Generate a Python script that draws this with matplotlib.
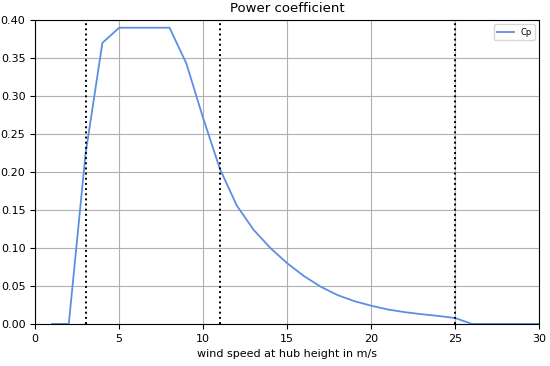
import matplotlib
matplotlib.use("Agg")
import matplotlib.pyplot as plt

# wind speed (m/s) and power coefficient
wind_speed = [1, 2, 3, 4, 5, 6, 7, 8, 9, 10, 11, 12, 13, 14, 15,
              16, 17, 18, 19, 20, 21, 22, 23, 24, 25, 26, 27, 28, 29, 30]
cp = [0.0, 0.0, 0.224, 0.37, 0.39, 0.39, 0.39, 0.39, 0.343, 0.271, 0.204,
      0.156, 0.124, 0.100, 0.080, 0.063, 0.049, 0.038, 0.030, 0.024,
      0.019, 0.0155, 0.0128, 0.0105, 0.0078, 0.0, 0.0, 0.0, 0.0, 0.0]
cut_speeds = [3, 11, 25]  # cut-in, rated, cut-out

fig = plt.figure(figsize=(5.5, 3.66), dpi=100)
ax = fig.add_axes([0.064, 0.115, 0.916, 0.83])

ax.plot(wind_speed, cp, color="#5b8fe3", linewidth=1.3, label="Cp")
for v in cut_speeds:
    ax.axvline(v, color="black", linestyle=":", linewidth=1.4)

ax.set_xlim(0, 30)
ax.set_ylim(0, 0.40)
ax.set_yticks([0.0, 0.05, 0.10, 0.15, 0.20, 0.25, 0.30, 0.35, 0.40])
ax.grid(True, color="#b0b0b0", linewidth=0.8)
ax.tick_params(labelsize=8)
ax.set_title("Power coefficient", fontsize=9.5)
ax.set_xlabel("wind speed at hub height in m/s", fontsize=8)
ax.legend(loc="upper right", fontsize=6)

fig.savefig("out.png", dpi=100)
